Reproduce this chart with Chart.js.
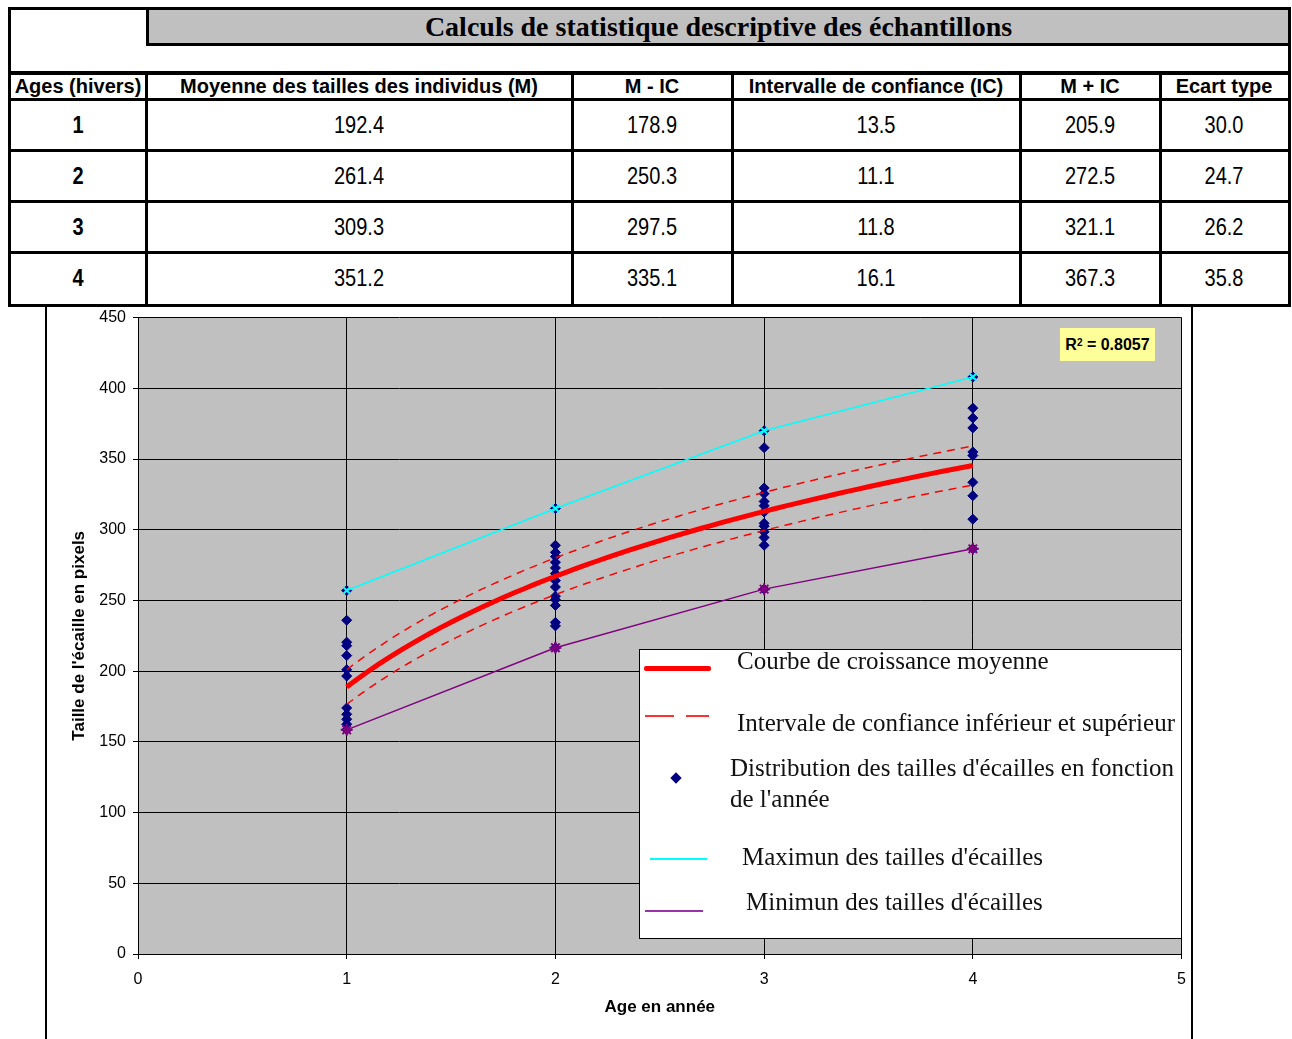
<!DOCTYPE html>
<html><head><meta charset="utf-8">
<script src="https://cdn.jsdelivr.net/npm/chart.js@4.4.0/dist/chart.umd.min.js"></script>
<style>
body{margin:0;background:#fff;width:1292px;height:1039px;position:relative;overflow:hidden;font-family:"Liberation Sans",Arial,sans-serif;color:#000;}
.abs{position:absolute;}
.ln{position:absolute;background:#000;}
.cell{position:absolute;display:flex;align-items:center;justify-content:center;white-space:nowrap;font-size:20px;}
.cell.hd{font-weight:bold;}
.cell span{display:inline-block;}
.cell.dt span{transform:scaleY(1.2);}
#title{position:absolute;left:146px;top:10px;width:1142px;height:36px;background:#c0c0c0;box-sizing:border-box;border-left:3px solid #000;border-bottom:3px solid #000;display:flex;align-items:center;justify-content:center;font-family:"Liberation Serif","Times New Roman",serif;font-weight:bold;font-size:28px;padding-top:1px;}
#r2{position:absolute;left:1060px;top:328px;width:95px;height:33px;background:#ffff99;font-weight:bold;font-size:16px;display:flex;align-items:center;justify-content:center;z-index:3;}
#r2 sup{font-size:10px;position:relative;top:-2px;}
#legend{position:absolute;left:639px;top:649px;width:543px;height:290px;background:#fff;border:1px solid #000;box-sizing:border-box;z-index:3;}
.lt{position:absolute;font-family:"Liberation Serif","Times New Roman",serif;font-size:25px;line-height:30px;white-space:nowrap;color:#111;}
</style></head><body>
<div id="tbl"></div>
<div id="title">Calculs de statistique descriptive des échantillons</div>
<div class="ln" style="left:45px;top:304px;width:2px;height:735px;"></div>
<div class="ln" style="left:1191px;top:304px;width:2px;height:735px;"></div>
<canvas id="c" width="1150" height="738" style="position:absolute;left:47px;top:301px;"></canvas>
<div id="r2">R<sup>2</sup>&nbsp;= 0.8057</div>
<div id="legend"></div>
<script>
// ---- Data ----
const ages = [1, 2, 3, 4];
const meanSizes = [192.4, 261.4, 309.3, 351.2];
const meanMinusIC = [178.9, 250.3, 297.5, 335.1];
const confInterval = [13.5, 11.1, 11.8, 16.1];
const meanPlusIC = [205.9, 272.5, 321.1, 367.3];
const stdDev = [30.0, 24.7, 26.2, 35.8];
const sizesAge1 = [257, 236, 220.5, 218, 211, 201, 196.5, 174, 169.5, 166, 162.5, 158.5];
const sizesAge2 = [315, 289, 284, 281, 277, 273, 269, 264, 259.5, 253, 250.5, 246.5, 234.5, 232, 216.5];
const sizesAge3 = [370, 358, 329.5, 325.5, 320, 317, 312.5, 304.5, 302.5, 298.5, 294.5, 289, 258];
const sizesAge4 = [408, 386, 379, 372, 355, 352.5, 333.5, 324, 307.5, 286.5];
const xTicks = [0, 1, 2, 3, 4, 5];
const yTicks = [0, 50, 100, 150, 200, 250, 300, 350, 400, 450];
const headers = ["Ages (hivers)", "Moyenne des tailles des individus (M)", "M - IC", "Intervalle de confiance (IC)", "M + IC", "Ecart type"];

// ---- Table ----
const colX = [10, 146, 572, 732, 1020, 1160, 1288];
const rowY = [72, 99, 150, 201, 252, 304];
const tbl = document.getElementById('tbl');
function add(html){ tbl.insertAdjacentHTML('beforeend', html); }
add('<div class="abs" style="left:8px;top:7px;width:1283px;height:300px;border:3px solid #000;box-sizing:border-box;"></div>');
add('<div class="ln" style="left:10px;top:71px;width:1278px;height:4px;"></div>');
for (let r = 1; r < rowY.length - 1; r++) add(`<div class="ln" style="left:10px;top:${rowY[r]-1}px;width:1278px;height:3px;"></div>`);
for (let c = 1; c < colX.length - 1; c++) add(`<div class="ln" style="left:${colX[c]-1}px;top:72px;width:3px;height:233px;"></div>`);
headers.forEach((h, c) => add(`<div class="cell hd" style="left:${colX[c]}px;top:${rowY[0]+2}px;width:${colX[c+1]-colX[c]}px;height:${rowY[1]-rowY[0]-2}px;"><span>${h}</span></div>`));
ages.forEach((a, r) => {
  const vals = [String(a), meanSizes[r].toFixed(1), meanMinusIC[r].toFixed(1), confInterval[r].toFixed(1), meanPlusIC[r].toFixed(1), stdDev[r].toFixed(1)];
  vals.forEach((v, c) => add(`<div class="cell dt${c===0?' hd':''}" style="left:${colX[c]}px;top:${rowY[r+1]+1}px;width:${colX[c+1]-colX[c]}px;height:${rowY[r+2]-rowY[r+1]-1}px;"><span>${v}</span></div>`));
});

// ---- Legend ----
const lg = document.getElementById('legend');
const L = (x, y) => `left:${x-640}px;top:${y-650}px;`;
lg.innerHTML = `
<div class="abs" style="${L(644,666)}width:67px;height:5px;background:#ff0000;border-radius:2px;"></div>
<div class="lt" style="${L(737,646)}">Courbe de croissance moyenne</div>
<div class="abs" style="${L(645,715)}width:29px;height:2px;background:#ff3030;"></div>
<div class="abs" style="${L(686,715)}width:23px;height:2px;background:#ff3030;"></div>
<div class="lt" style="${L(737,708)}">Intervale de confiance inférieur et supérieur</div>
<div class="abs" style="${L(672,774)}width:8px;height:8px;background:#000080;transform:rotate(45deg);"></div>
<div class="lt" style="${L(730,753)}">Distribution des tailles d'écailles en fonction</div>
<div class="lt" style="${L(730,784)}">de l'année</div>
<div class="abs" style="${L(650,858)}width:57px;height:2px;background:#00ffff;"></div>
<div class="lt" style="${L(742,842)}">Maximun des tailles d'écailles</div>
<div class="abs" style="${L(645,910)}width:58px;height:2px;background:#9933aa;"></div>
<div class="lt" style="${L(746,887)}">Minimun des tailles d'écailles</div>`;

// ---- Chart ----
const groups = [sizesAge1, sizesAge2, sizesAge3, sizesAge4];
const scatterPts = ages.flatMap((a, i) => groups[i].map(v => ({x: a, y: v})));
const maxPts = ages.map((a, i) => ({x: a, y: Math.max(...groups[i])}));
const minPts = ages.map((a, i) => ({x: a, y: Math.min(...groups[i])}));

// Logarithmic trendline (least squares y = a ln x + b), as Excel computes it
function logFit(xs, ys) {
  const lx = xs.map(Math.log), n = xs.length;
  const mx = lx.reduce((s, v) => s + v, 0) / n, my = ys.reduce((s, v) => s + v, 0) / n;
  let sxy = 0, sxx = 0;
  for (let i = 0; i < n; i++) { sxy += (lx[i]-mx)*(ys[i]-my); sxx += (lx[i]-mx)**2; }
  const a = sxy / sxx; return {a, b: my - a*mx};
}
function trend(ys) {
  const f = logFit(ages, ys), out = [];
  for (let k = 0; k <= 60; k++) { const x = ages[0] + (ages[ages.length-1]-ages[0])*k/60; out.push({x, y: f.a*Math.log(x)+f.b}); }
  return out;
}

const bgPlugin = {
  id: 'bg',
  beforeDraw(chart) {
    const {ctx, chartArea: a} = chart;
    ctx.save(); ctx.fillStyle = '#c0c0c0'; ctx.fillRect(a.left, a.top, a.right-a.left, a.bottom-a.top); ctx.restore();
  }
};

new Chart(document.getElementById('c'), {
  type: 'scatter',
  data: {
    datasets: [
      {label: 'Courbe de croissance moyenne', data: trend(meanSizes), showLine: true, borderColor: '#ff0000', borderWidth: 5, pointRadius: 0, order: 1},
      {label: 'IC sup', data: trend(meanPlusIC), showLine: true, borderColor: '#ff0000', borderWidth: 1.5, borderDash: [8, 6], pointRadius: 0, order: 2},
      {label: 'IC inf', data: trend(meanMinusIC), showLine: true, borderColor: '#ff0000', borderWidth: 1.5, borderDash: [8, 6], pointRadius: 0, order: 2},
      {label: 'Maximun', data: maxPts, showLine: true, borderColor: '#00ffff', borderWidth: 1.5, pointStyle: 'crossRot', pointRadius: 5, pointBorderWidth: 2, pointBorderColor: '#00ffff', order: 3},
      {label: 'Minimun', data: minPts, showLine: true, borderColor: '#800080', borderWidth: 1.5, pointStyle: 'star', pointRadius: 6, pointBorderWidth: 2, pointBorderColor: '#800080', pointBackgroundColor: 'rgba(0,0,0,0)', order: 3},
      {label: 'Distribution', data: scatterPts, pointStyle: 'rectRot', pointRadius: 5, backgroundColor: '#000080', borderColor: '#000080', pointBorderWidth: 1, order: 4}
    ]
  },
  options: {
    responsive: false, animation: false,
    layout: {padding: {left: 0, right: 5, top: 5, bottom: 0}},
    plugins: {legend: {display: false}, tooltip: {enabled: false}},
    scales: {
      x: {
        type: 'linear', min: 0, max: 5,
        afterBuildTicks: s => { s.ticks = xTicks.map(v => ({value: v})); },
        afterFit: s => { s.height = 85; },
        grid: {color: '#000', lineWidth: 1, tickLength: 5, tickColor: '#000'},
        border: {color: '#000', width: 1},
        ticks: {color: '#000', font: {family: 'Liberation Sans', size: 16}, padding: 11},
        title: {display: true, text: 'Age en année', color: '#000', font: {family: 'Liberation Sans', size: 17, weight: 'bold'}, padding: {top: 0, bottom: 21}}
      },
      y: {
        min: 0, max: 450,
        afterBuildTicks: s => { s.ticks = yTicks.map(v => ({value: v})); },
        afterFit: s => { s.width = 91; },
        grid: {color: '#000', lineWidth: 1, tickLength: 5, tickColor: '#000'},
        border: {color: '#000', width: 1},
        ticks: {color: '#000', font: {family: 'Liberation Sans', size: 16}, padding: 7},
        title: {display: true, text: "Taille de l'écaille en pixels", color: '#000', font: {family: 'Liberation Sans', size: 17, weight: 'bold'}, padding: {top: 22, bottom: 0}}
      }
    }
  },
  plugins: [bgPlugin]
});
</script>
</body></html>
